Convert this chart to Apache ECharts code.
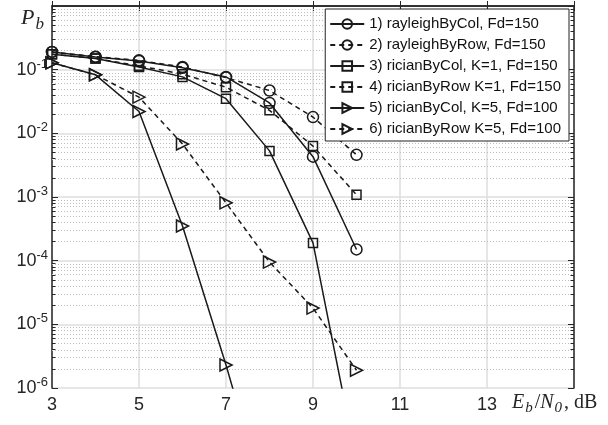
<!DOCTYPE html>
<html>
<head>
<meta charset="utf-8">
<script src="https://cdn.jsdelivr.net/npm/echarts@6/dist/echarts.min.js"></script>
<style>
  html, body { margin: 0; padding: 0; background: #fff; }
  #chart { width: 608px; height: 425px; }
</style>
</head>
<body>
<div id="chart"></div>
<script>
// Eb/N0, dB
const ebn0 = [3, 4, 5, 6, 7, 8, 9, 10];

const names = [
  "1) rayleighByCol, Fd=150",
  "2) rayleighByRow, Fd=150",
  "3) ricianByCol, K=1, Fd=150",
  "4) ricianByRow K=1, Fd=150",
  "5) ricianByCol, K=5, Fd=100",
  "6) ricianByRow K=5, Fd=100"
];

// bit error probability
const rayleighCol = [0.19, 0.158, 0.137, 0.107, 0.077, 0.030, 0.0043, 1.5e-4];
const rayleighRow = [0.19, 0.16, 0.14, 0.11, 0.075, 0.047, 0.018, 0.0046];
const ricianColK1 = [0.175, 0.15, 0.11, 0.077, 0.035, 0.0053, 1.9e-4, 7e-8];
const ricianRowK1 = [0.175, 0.15, 0.115, 0.085, 0.053, 0.023, 0.0063, 0.00108];
const ricianColK5 = [0.128, 0.083, 0.022, 3.5e-4, 2.3e-6, 1e-8, null, null];
const ricianRowK5 = [0.128, 0.083, 0.037, 0.0068, 8.1e-4, 9.5e-5, 1.8e-5, 1.9e-6];

const xTicks = [3, 5, 7, 9, 11, 13];

const chart = echarts.init(document.getElementById("chart"));

const ink = "#1a1a1a";
const axisInk = "#262626";

function pairs(vals) {
  return ebn0.map((x, i) => [x, vals[i]]).filter(p => p[1] != null);
}

function mkSeries(name, vals, symbol, rotate, dashed, size) {
  return {
    name: name,
    type: "line",
    data: pairs(vals),
    symbol: symbol,
    symbolSize: size,
    symbolRotate: rotate,
    clip: true,
    z: 5,
    itemStyle: { color: "rgba(0,0,0,0)", borderColor: ink, borderWidth: 1.5 },
    lineStyle: { color: ink, width: 1.5, type: dashed ? [5, 4] : "solid" },
    emphasis: { disabled: true }
  };
}

// minor log positions (as log10) for dotted grid and minor ticks
const minorLog = [];
for (let e = -6; e < 0; e++) {
  for (let m = 2; m <= 9; m++) minorLog.push(e + Math.log10(m));
}
const minorGrid = minorLog.map(l => ({ yAxis: l }));
const minorTicks = [];
minorLog.forEach(l => {
  minorTicks.push([{ coord: [3, l] }, { coord: [3.08, l] }]);
  minorTicks.push([{ coord: [14.92, l] }, { coord: [15, l] }]);
});

const labelFont = { fontFamily: "Liberation Sans", fontSize: 18, color: axisInk };

const options = {
  animation: false,
  grid: { left: 52, right: 34, top: 6, bottom: 37 },
  legend: {
    orient: "vertical",
    right: 39,
    top: 9,
    data: names,
    backgroundColor: "#fff",
    borderColor: "#222",
    borderWidth: 1,
    padding: [7, 8, 4, 4],
    itemWidth: 34,
    itemHeight: 12,
    itemGap: 5,
    textStyle: { fontFamily: "Liberation Sans", fontSize: 15, color: "#111", lineHeight: 16 },
    z: 10
  },
  xAxis: [
    {
      type: "value",
      min: 3,
      max: 15,
      interval: 2,
      axisLine: { lineStyle: { color: axisInk, width: 1.5 } },
      axisTick: { inside: true, length: 5, lineStyle: { color: axisInk } },
      axisLabel: Object.assign({
        margin: 8,
        formatter: v => (xTicks.indexOf(v) >= 0 ? String(v) : "")
      }, labelFont),
      splitLine: { show: true, lineStyle: { color: "#dedede", width: 1.5 } }
    },
    {
      type: "value",
      position: "top",
      min: 3,
      max: 15,
      interval: 2,
      axisLine: { show: true, lineStyle: { color: axisInk, width: 1.5 } },
      axisTick: { inside: true, length: 5, lineStyle: { color: axisInk } },
      axisLabel: { show: false },
      splitLine: { show: false }
    }
  ],
  yAxis: [
    {
      type: "log",
      min: 1e-6,
      max: 1,
      logBase: 10,
      axisLine: { show: true, lineStyle: { color: axisInk, width: 1.5 } },
      axisTick: { show: true, inside: true, length: 6, lineStyle: { color: axisInk } },
      axisLabel: Object.assign({
        margin: 4,
        formatter: v => {
          const e = Math.round(Math.log10(v));
          return e === 0 ? "" : "10{sup|" + e + "}";
        },
        rich: { sup: { fontFamily: "Liberation Sans", fontSize: 13, color: axisInk, padding: [0, 0, 11, 0] } }
      }, labelFont),
      splitLine: { show: true, lineStyle: { color: "#dedede", width: 1.5 } }
    },
    {
      type: "log",
      min: 1e-6,
      max: 1,
      logBase: 10,
      position: "right",
      axisLine: { show: true, lineStyle: { color: axisInk, width: 1.5 } },
      axisTick: { show: true, inside: true, length: 6, lineStyle: { color: axisInk } },
      axisLabel: { show: false },
      splitLine: { show: false }
    },
    {
      // hidden linear twin in log10 units, used for minor grid and ticks
      type: "value",
      min: -6,
      max: 0,
      show: false,
      splitLine: { show: false }
    }
  ],
  graphic: [
    {
      type: "text",
      left: 21,
      top: 7,
      style: {
        text: "{i|P}{s|b}",
        rich: {
          i: { fontFamily: "Liberation Serif", fontStyle: "italic", fontSize: 22, fill: axisInk },
          s: { fontFamily: "Liberation Serif", fontStyle: "italic", fontSize: 17, fill: axisInk, padding: [14, 0, 0, 1] }
        }
      }
    },
    {
      type: "text",
      left: 512,
      top: 393,
      style: {
        text: "{i|E}{s|b}{t|/}{i|N}{s|0}{t|, dB}",
        rich: {
          i: { fontFamily: "Liberation Serif", fontStyle: "italic", fontSize: 20, fill: axisInk, padding: [0, 1, 0, 0] },
          s: { fontFamily: "Liberation Serif", fontStyle: "italic", fontSize: 15, fill: axisInk, padding: [11, 2, 0, 0] },
          t: { fontFamily: "Liberation Serif", fontSize: 20, fill: axisInk }
        }
      }
    }
  ],
  series: [
    {
      type: "line",
      data: [],
      yAxisIndex: 2,
      silent: true,
      z: 1,
      markLine: {
        silent: true,
        animation: false,
        symbol: ["none", "none"],
        label: { show: false },
        lineStyle: { color: "#bdbdbd", type: [1, 2], width: 1 },
        emphasis: { disabled: true },
        data: minorGrid
      }
    },
    {
      type: "line",
      data: [],
      yAxisIndex: 2,
      silent: true,
      z: 3,
      markLine: {
        silent: true,
        animation: false,
        symbol: ["none", "none"],
        label: { show: false },
        lineStyle: { color: axisInk, type: "solid", width: 1 },
        emphasis: { disabled: true },
        data: minorTicks
      }
    },
    mkSeries(names[0], rayleighCol, "circle", 0, false, 11),
    mkSeries(names[1], rayleighRow, "circle", 0, true, 11),
    mkSeries(names[2], ricianColK1, "rect", 0, false, 9),
    mkSeries(names[3], ricianRowK1, "rect", 0, true, 9),
    mkSeries(names[4], ricianColK5, "triangle", -90, false, 12),
    mkSeries(names[5], ricianRowK5, "triangle", -90, true, 12)
  ]
};

chart.setOption(options);
</script>
</body>
</html>
